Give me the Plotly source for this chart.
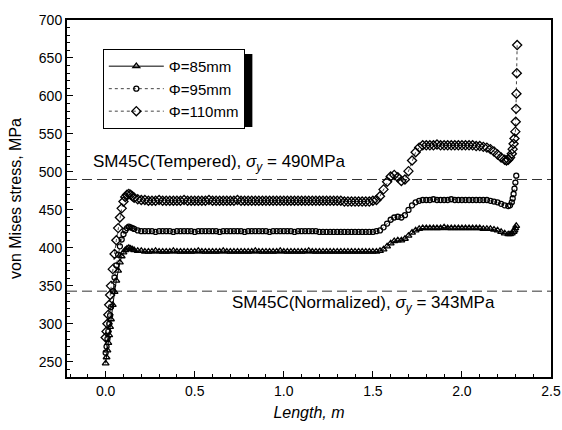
import plotly.graph_objects as go

# ---------------- data ----------------
x_body = [0.000, 0.005, 0.010, 0.015, 0.020, 0.025, 0.030, 0.040, 0.050, 0.060, 0.070,
          0.080, 0.090, 0.100, 0.110, 0.120, 0.130, 0.140, 0.150, 0.160, 0.180, 0.200,
          0.22, 0.24, 0.26, 0.28, 0.30, 0.32, 0.34, 0.36, 0.38, 0.40,
          0.42, 0.44, 0.46, 0.48, 0.50, 0.52, 0.54, 0.56, 0.58, 0.60,
          0.62, 0.64, 0.66, 0.68, 0.70, 0.72, 0.74, 0.76, 0.78, 0.80,
          0.82, 0.84, 0.86, 0.88, 0.90, 0.92, 0.94, 0.96, 0.98, 1.00,
          1.02, 1.04, 1.06, 1.08, 1.10, 1.12, 1.14, 1.16, 1.18, 1.20,
          1.22, 1.24, 1.26, 1.28, 1.30, 1.32, 1.34, 1.36, 1.38, 1.40,
          1.42, 1.44, 1.46, 1.48, 1.50,
          1.52, 1.54, 1.56, 1.58, 1.60, 1.62, 1.64, 1.66, 1.68, 1.70,
          1.72, 1.74, 1.76, 1.78,
          1.80, 1.82, 1.84, 1.86, 1.88, 1.90, 1.92, 1.94, 1.96, 1.98,
          2.00, 2.02, 2.04, 2.06, 2.08, 2.10, 2.12, 2.14, 2.16, 2.18, 2.20]

# Phi = 85 mm
y85_body = [248, 256, 265, 275, 285, 296, 306, 325, 342, 357, 370,
            381, 389, 394, 397, 399, 400, 399, 398, 397, 396, 396,
            395, 395, 395, 396, 395, 395, 395, 395, 396, 395,
            395, 395, 395, 395, 395, 396, 395, 395, 395, 395,
            395, 395, 396, 395, 395, 395, 395, 395, 395, 395,
            395, 396, 395, 395, 395, 395, 395, 395, 396, 395,
            395, 395, 395, 395, 395, 395, 396, 395, 395, 395,
            395, 395, 395, 395, 395, 395, 395, 395, 395, 395,
            395, 395, 395, 395, 395,
            395, 396, 398, 402, 406, 409, 410, 410, 412, 416,
            420, 423, 425, 426,
            426, 426, 426, 426, 426, 427, 426, 426, 426, 426,
            426, 426, 426, 426, 426, 426, 425, 425, 425, 424, 423]
x85_tail = [2.22, 2.24, 2.26, 2.27, 2.28, 2.29, 2.295, 2.30, 2.305]
y85_tail = [421, 419, 418, 418, 419, 421, 423, 426, 429]

# Phi = 95 mm
y95_body = [262, 270, 280, 290, 300, 311, 322, 343, 361, 377, 391,
            402, 411, 418, 423, 426, 428, 427, 426, 425, 423, 422,
            422, 422, 422, 421, 422, 422, 422, 422, 421, 422,
            422, 422, 422, 422, 421, 422, 422, 422, 422, 422,
            422, 421, 422, 422, 422, 422, 422, 422, 421, 422,
            422, 422, 422, 422, 422, 421, 422, 422, 422, 422,
            422, 422, 421, 422, 422, 422, 422, 422, 422, 421,
            421, 421, 421, 421, 421, 421, 421, 421, 421, 421,
            421, 421, 421, 421, 421,
            422, 423, 427, 432, 437, 440, 441, 440, 443, 450,
            456, 460, 462, 463,
            463, 463, 464, 463, 463, 463, 463, 464, 463, 463,
            463, 463, 463, 463, 463, 463, 463, 463, 462, 461, 460]
x95_tail = [2.22, 2.24, 2.26, 2.27, 2.28, 2.285, 2.29, 2.295, 2.30, 2.305]
y95_tail = [458, 456, 455, 456, 460, 465, 471, 478, 486, 495]

# Phi = 110 mm
y110_body = [282, 290, 300, 312, 325, 338, 350, 372, 392, 410, 426,
             440, 452, 461, 467, 470, 471, 470, 468, 466, 464, 463,
             463, 462, 462, 462, 463, 462, 462, 462, 462, 462,
             462, 463, 462, 462, 462, 462, 462, 462, 463, 462,
             462, 462, 462, 462, 462, 462, 463, 462, 462, 462,
             462, 462, 462, 462, 462, 462, 462, 462, 462, 462,
             462, 462, 462, 462, 462, 462, 462, 462, 462, 462,
             462, 462, 462, 462, 462, 462, 461, 461, 461, 461,
             461, 461, 461, 461, 462,
             463, 468, 477, 487, 494, 496, 493, 488, 490, 501,
             515, 526, 532, 535,
             535, 535, 535, 536, 535, 535, 535, 535, 535, 535,
             535, 535, 535, 535, 534, 534, 533, 532, 530, 527, 523]
x110_tail = [2.22, 2.24, 2.25, 2.26, 2.27, 2.28, 2.285, 2.29, 2.295, 2.30,
             2.302, 2.304, 2.306, 2.308, 2.31]
y110_tail = [519, 516, 515, 516, 519, 524, 530, 537, 544, 553,
             566, 583, 603, 630, 667]

series_names = ["Φ=85mm", "Φ=95mm", "Φ=110mm"]
yield_tempered = 490
yield_normalized = 343
x_ticks = [0.0, 0.5, 1.0, 1.5, 2.0, 2.5]
x_ticktext = ["0.0", "0.5", "1.0", "1.5", "2.0", "2.5"]
y_ticks = [250, 300, 350, 400, 450, 500, 550, 600, 650, 700]

# ---------------- figure ----------------
FONT = "Liberation Sans, Arial, sans-serif"
fig = go.Figure()

styles = [
    dict(symbol="triangle-up-open", size=6, dash="solid", lcolor="black"),
    dict(symbol="circle-open", size=5, dash="dot", lcolor="#444444"),
    dict(symbol="diamond-open", size=7, dash="dot", lcolor="#444444"),
]
ys = [(y85_body, x85_tail, y85_tail), (y95_body, x95_tail, y95_tail),
      (y110_body, x110_tail, y110_tail)]

for name, st, (yb, xt, yt) in zip(series_names, styles, ys):
    fig.add_trace(go.Scatter(
        x=x_body + xt, y=yb + yt, name=name, mode="lines+markers",
        line=dict(color=st["lcolor"], width=1, dash=st["dash"]),
        marker=dict(symbol=st["symbol"], size=st["size"], color="black",
                    line=dict(color="black", width=1.3)),
    ))

for yv in (yield_tempered, yield_normalized):
    fig.add_shape(type="line", xref="paper", yref="y", x0=0, x1=1, y0=yv, y1=yv,
                  line=dict(color="#333333", width=1, dash="10px,5px"), layer="below")

fig.add_annotation(x=-0.082, y=512, xref="x", yref="y", xanchor="left", yanchor="middle",
                   text="SM45C(Tempered), <i>σ</i><sub><i>y</i></sub> = 490MPa",
                   showarrow=False, font=dict(family=FONT, size=17, color="black"))
fig.add_annotation(x=0.697, y=326, xref="x", yref="y", xanchor="left", yanchor="middle",
                   text="SM45C(Normalized), <i>σ</i><sub><i>y</i></sub> = 343MPa",
                   showarrow=False, font=dict(family=FONT, size=17, color="black"))

# legend shadow
fig.add_shape(type="rect", xref="paper", yref="paper",
              x0=0.0847, x1=0.383, y0=0.700, y1=0.905,
              fillcolor="black", line=dict(width=0), layer="above")

fig.update_layout(
    width=562, height=430,
    margin=dict(l=67, r=11, t=20, b=53),
    paper_bgcolor="white", plot_bgcolor="white",
    font=dict(family=FONT, size=14, color="black"),
    showlegend=True,
    hovermode=False,
    legend=dict(x=0.074, y=0.919, xanchor="left", yanchor="top",
                bgcolor="white", bordercolor="black", borderwidth=1,
                font=dict(family=FONT, size=15, color="black"),
                itemwidth=55, tracegroupgap=0),
    xaxis=dict(range=[-0.217, 2.5], tickvals=x_ticks, ticktext=x_ticktext,
               automargin=False,
               ticks="inside", ticklen=6, tickwidth=1, tickcolor="black",
               minor=dict(dtick=0.1, ticks="inside", ticklen=3, tickcolor="black"),
               showline=True, linecolor="black", linewidth=2, mirror=True,
               showgrid=False, zeroline=False,
               tickfont=dict(family=FONT, size=14),
               title=dict(text="<i>Length, m</i>", font=dict(family=FONT, size=16), standoff=9)),
    yaxis=dict(range=[230, 700], tickvals=y_ticks,
               automargin=False,
               ticks="inside", ticklen=6, tickwidth=1, tickcolor="black",
               minor=dict(dtick=10, ticks="inside", ticklen=3, tickcolor="black"),
               showline=True, linecolor="black", linewidth=2, mirror=True,
               showgrid=False, zeroline=False,
               tickfont=dict(family=FONT, size=14),
               title=dict(text="von Mises stress, MPa", font=dict(family=FONT, size=16), standoff=13)),
)

# remove the default page margin so the 562x430 figure fills the window exactly
fig.write_html("out.html", config={"displayModeBar": False},
               post_script="document.body.style.margin='0';"
               "document.documentElement.style.overflow='hidden';"
               "document.body.style.overflow='hidden';")
